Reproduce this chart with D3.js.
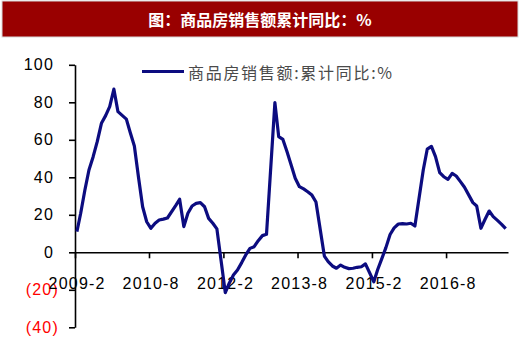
<!DOCTYPE html>
<html>
<head>
<meta charset="utf-8">
<script src="https://cdn.jsdelivr.net/npm/d3@7"></script>
<style>
  body { margin: 0; background: #fff; }
  svg { display: block; }
</style>
</head>
<body>
<svg id="chart" width="520" height="354"></svg>
<script>
// monthly cumulative YoY, January is not published (Jan-Feb combined)
const months = [
  '2009-02','2009-03','2009-04','2009-05','2009-06','2009-07','2009-08','2009-09','2009-10','2009-11','2009-12',
  '2010-02','2010-03','2010-04','2010-05','2010-06','2010-07','2010-08','2010-09','2010-10','2010-11','2010-12',
  '2011-02','2011-03','2011-04','2011-05','2011-06','2011-07','2011-08','2011-09','2011-10','2011-11','2011-12',
  '2012-02','2012-03','2012-04','2012-05','2012-06','2012-07','2012-08','2012-09','2012-10','2012-11','2012-12',
  '2013-02','2013-03','2013-04','2013-05','2013-06','2013-07','2013-08','2013-09','2013-10','2013-11','2013-12',
  '2014-02','2014-03','2014-04','2014-05','2014-06','2014-07','2014-08','2014-09','2014-10','2014-11','2014-12',
  '2015-02','2015-03','2015-04','2015-05','2015-06','2015-07','2015-08','2015-09','2015-10','2015-11','2015-12',
  '2016-02','2016-03','2016-04','2016-05','2016-06','2016-07','2016-08','2016-09','2016-10','2016-11','2016-12',
  '2017-02','2017-03','2017-04','2017-05','2017-06','2017-07','2017-08','2017-09','2017-10'
];
const salesYoY = [
  11, 20.8, 33.2, 43.9, 51, 59, 68.8, 72.9, 77.7, 87, 75,
  71, 64, 56.7, 40.3, 24.3, 16.3, 12.8, 15.5, 17.2, 17.7, 18.3,
  25, 28.3, 13.7, 20.8, 24.7, 26.1, 26.5, 24.3, 18.1, 15.5, 12.5,
  -21.5, -16.5, -12.1, -9.4, -5.5, -1.4, 2.1, 3, 6.2, 8.9, 9.6,
  79.8, 61.7, 60.2, 53.7, 46.6, 39.5, 35, 33.8, 32.3, 30.5, 26.8,
  -2, -5, -7.3, -8.5, -6.8, -8, -8.7, -8.5, -8, -7.7, -6.2,
  -15.7, -9.3, -3.4, 2.5, 9.5, 13, 15.1, 15.3, 15.1, 15.5, 14,
  44, 55, 56.5, 51, 42.5, 40.3, 38.9, 42.1, 40.7, 37.7, 34.7,
  26.5, 24.7, 12.8, 17.5, 22, 19, 17, 14.9, 12.6
];
const xTickLabels = ['2009-2', '2010-8', '2012-2', '2013-8', '2015-2', '2016-8'];
const yTicks = [-40, -20, 0, 20, 40, 60, 80, 100];

const TITLE = '图：商品房销售额累计同比：%';
const LEGEND = '商品房销售额:累计同比:%';
const LINE_COLOR = '#0c0c80';

const parseMonth = d3.timeParse('%Y-%m');
// points sit in the middle of their month
const data = months.map((m, i) => ({
  date: d3.timeDay.offset(parseMonth(m), 14),
  value: salesYoY[i],
}));

const svg = d3.select('#chart');

// title bar
svg.append('rect')
  .attr('x', 2).attr('y', 1)
  .attr('width', 516).attr('height', 36)
  .attr('fill', '#990000')
  .attr('stroke', '#d8d8d8');

svg.append('text')
  .attr('x', 260).attr('y', 19)
  .attr('text-anchor', 'middle')
  .attr('dominant-baseline', 'central')
  .style('font-family', '"Noto Sans CJK SC", sans-serif')
  .style('font-weight', 'bold')
  .style('font-size', '16px')
  .attr('fill', '#fff')
  .text(TITLE);

const x = d3.scaleTime()
  .domain([parseMonth('2009-02'), parseMonth('2017-11')])
  .range([75, 508]);
const y = d3.scaleLinear().domain([-40, 100]).range([327.3, 64.8]);

const tickFont = (g) => g.selectAll('text')
  .style('font-family', '"Liberation Sans", Arial, sans-serif')
  .style('font-size', '16px')
  .style('letter-spacing', '1.2px');

// y axis
const yAxis = svg.append('g')
  .attr('transform', 'translate(75,0)')
  .call(d3.axisLeft(y)
    .tickValues(yTicks)
    .tickSize(6)
    .tickSizeOuter(0)
    .tickPadding(15)
    .tickFormat((d) => (d < 0 ? `(${-d})` : d)));
yAxis.select('.domain').attr('stroke', '#000').attr('stroke-width', 1.6);
yAxis.selectAll('.tick line').attr('stroke', '#000').attr('stroke-width', 1.6);
yAxis.call(tickFont);
yAxis.selectAll('.tick text')
  .attr('fill', (d) => (d < 0 ? '#ff0000' : '#000'))
  .attr('x', (d) => (d < 0 ? -16 : -21));

// x axis on the zero line
const xAxis = svg.append('g')
  .attr('transform', `translate(0,${y(0)})`)
  .call(d3.axisBottom(x)
    .tickValues(xTickLabels.map(parseMonth))
    .tickSize(6)
    .tickSizeOuter(0)
    .tickPadding(19)
    .tickFormat(d3.timeFormat('%Y-%-m')));
xAxis.select('.domain').attr('stroke', '#000').attr('stroke-width', 1.6);
xAxis.selectAll('.tick line').attr('stroke', '#000').attr('stroke-width', 1.6);
xAxis.call(tickFont);
xAxis.selectAll('.tick text').attr('fill', '#000').attr('dx', '0.1em');

// series
const line = d3.line()
  .x((d) => x(d.date))
  .y((d) => y(d.value));

svg.append('path')
  .datum(data)
  .attr('d', line)
  .attr('fill', 'none')
  .attr('stroke', LINE_COLOR)
  .attr('stroke-width', 3.2)
  .attr('stroke-linejoin', 'round');

// legend
svg.append('line')
  .attr('x1', 142).attr('x2', 184)
  .attr('y1', 71.5).attr('y2', 71.5)
  .attr('stroke', LINE_COLOR)
  .attr('stroke-width', 3.2);

svg.append('text')
  .attr('x', 188).attr('y', 71.5)
  .attr('dominant-baseline', 'central')
  .style('font-family', '"Noto Sans CJK SC", sans-serif')
  .style('font-size', '16px')
  .style('letter-spacing', '1.7px')
  .attr('fill', '#4a4a4a')
  .text(LEGEND);
</script>
</body>
</html>
